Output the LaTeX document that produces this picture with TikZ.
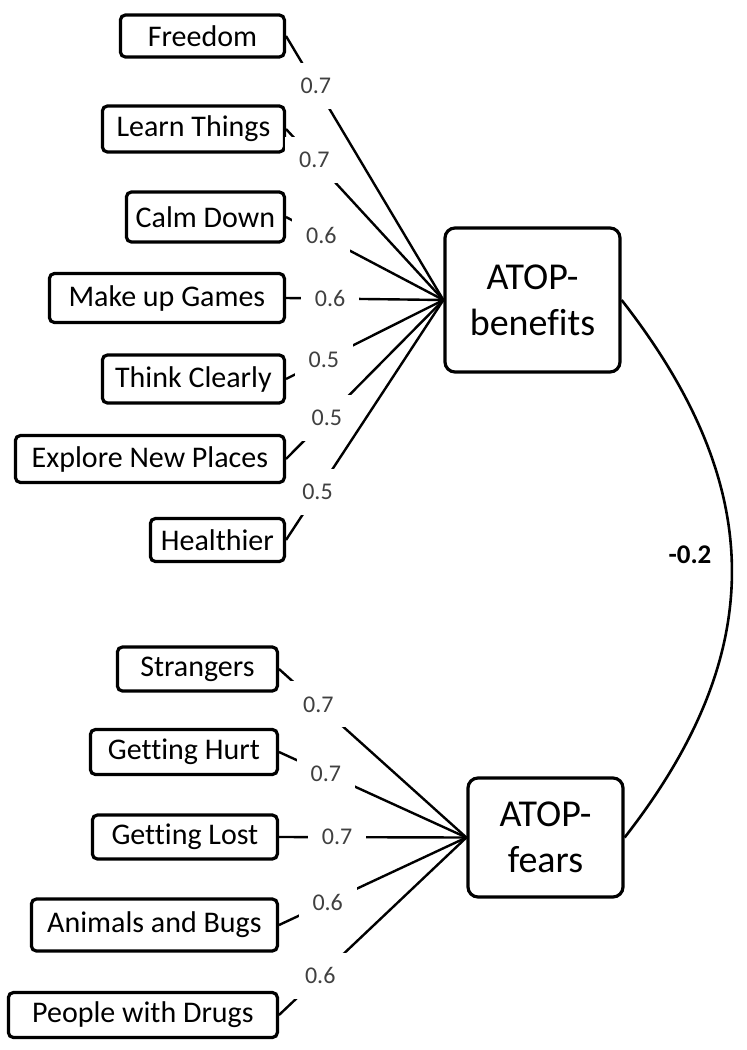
\documentclass[tikz,border=0pt]{standalone}
\usepackage{fontspec}
\setmainfont{Carlito}[Ligatures=NoCommon]
\usepackage{tikz}
\usetikzlibrary{positioning}

\begin{document}
\begin{tikzpicture}[x=0.5pt, y=0.5pt,
    item/.style={rectangle, draw, rounded corners=2.5pt, line width=1.6pt, anchor=east, inner sep=2pt, minimum height=22pt, font=\fontsize{15}{17}\selectfont},
    hub/.style={rectangle, draw, rounded corners=5pt, line width=1.6pt, align=center, font=\fontsize{19}{23}\selectfont},
    load/.style={fill=white, text=black!75, inner sep=0pt, minimum width=29pt, minimum height=23pt, font=\fontsize{12}{14}\selectfont},
    link/.style={line width=1.2pt}
]
\useasboundingbox (0,0) rectangle (747,-1050);

% latent factors
\node[hub, minimum width=87.5pt, minimum height=72pt] (ben) at (532.5,-300) {ATOP-\\benefits};
\node[hub, minimum width=77.5pt, minimum height=59.5pt] (fea) at (545.5,-837.5) {ATOP-\\fears};

% benefit items
\node[item, minimum width=82pt, minimum height=21pt] (fre) at (286,-36) {Freedom};
\node[item, minimum width=91pt, minimum height=23pt] (lrn) at (286,-129) {Learn Things};
\node[item, minimum width=79pt, minimum height=25pt] (clm) at (286,-217) {Calm Down};
\node[item, minimum width=117.5pt, minimum height=24.5pt] (gam) at (286,-298) {Make up Games};
\node[item, minimum width=91pt, minimum height=24pt] (thk) at (286,-379) {Think Clearly};
\node[item, minimum width=134.5pt, minimum height=23.5pt] (exp) at (286,-459) {Explore New Places};
\node[item, minimum width=67pt, minimum height=21.5pt] (hlt) at (286,-540) {Healthier};

% fear items
\node[item, minimum width=80pt] (str) at (279,-669) {Strangers};
\node[item, minimum width=93.5pt, minimum height=22.5pt] (hrt) at (279,-752) {Getting Hurt};
\node[item, minimum width=92.5pt] (lst) at (279,-837) {Getting Lost};
\node[item, minimum width=123pt, minimum height=26pt] (bug) at (279,-925) {Animals and Bugs};
\node[item, minimum width=134.5pt, minimum height=22.5pt] (drg) at (279,-1015) {People with Drugs};

% loadings
\draw[link] (fre.east) -- node[load, pos=0.19] {0.7} (ben.west);
\draw[link] (lrn.east) -- node[load, pos=0.18] {0.7} (ben.west);
\draw[link] (clm.east) -- node[load, pos=0.225] {0.6} (ben.west);
\draw[link] (gam.east) -- node[load, pos=0.28] {0.6} (ben.west);
\draw[link] (thk.east) -- node[load, pos=0.24] {0.5} (ben.west);
\draw[link] (exp.east) -- node[load, pos=0.26] {0.5} (ben.west);
\draw[link] (hlt.east) -- node[load, pos=0.2] {0.5} (ben.west);

\draw[link] (str.east) -- node[load, pos=0.21] {0.7} (fea.west);
\draw[link] (hrt.east) -- node[load, pos=0.25] {0.7} (fea.west);
\draw[link] (lst.east) -- node[load, pos=0.31] {0.7} (fea.west);
\draw[link] (bug.east) -- node[load, pos=0.26] {0.6} (fea.west);
\draw[link] (drg.east) -- node[load, pos=0.22] {0.6} (fea.west);

% correlation
\draw[line width=1.3pt] (ben.east) to[out=-52, in=52, looseness=1.12] (fea.east);
\node[font=\bfseries\fontsize{13.5}{15}\selectfont] (cor) at (690,-555) {-0.2};

\end{tikzpicture}
\end{document}
